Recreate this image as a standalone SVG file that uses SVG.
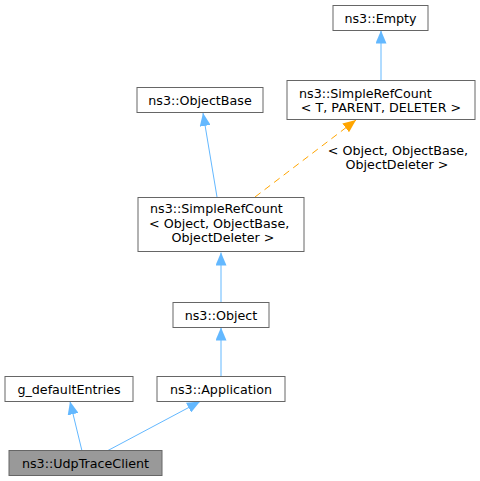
<svg xmlns="http://www.w3.org/2000/svg" width="480" height="481" viewBox="0 0 480 481">
<style>
.box{fill:#fff;stroke:#666;stroke-width:1}
.hl{fill:#999;stroke:#666;stroke-width:1}
text{font-family:"DejaVu Sans",sans-serif;font-size:12.7px;fill:#000}
.e{fill:none;stroke:#63b8ff;stroke-width:1}
.t{fill:none;stroke:#ffa500;stroke-width:1;stroke-dasharray:7,5}
</style>
<defs>
<marker id="ab" viewBox="0 0 13 11" refX="13" refY="5.5" markerWidth="13" markerHeight="11" markerUnits="userSpaceOnUse" orient="auto">
<path d="M0,0 L13,5.5 L0,11 Z" fill="#63b8ff"/>
</marker>
<marker id="ao" viewBox="0 0 13 11" refX="13" refY="5.5" markerWidth="13" markerHeight="11" markerUnits="userSpaceOnUse" orient="auto">
<path d="M0,0 L13,5.5 L0,11 Z" fill="#ffa500"/>
</marker>
</defs>
<rect width="480" height="481" fill="#fff"/>
<g id="connectors">
<path class="e" d="M381,80 L381,30.5" marker-end="url(#ab)"/>
<path class="e" d="M217,197 L203,113" marker-end="url(#ab)"/>
<path class="t" d="M255,197 L356,120" marker-end="url(#ao)"/>
<text x="398" y="155" text-anchor="middle">&lt; Object, ObjectBase,</text>
<text x="397" y="168.5" text-anchor="middle">ObjectDeleter &gt;</text>
<path class="e" d="M221,302 L221,252.5" marker-end="url(#ab)"/>
<path class="e" d="M221,376 L221,327.5" marker-end="url(#ab)"/>
<path class="e" d="M82,451 L70,401.5" marker-end="url(#ab)"/>
<path class="e" d="M107,451 L200,401.5" marker-end="url(#ab)"/>
</g>
<g id="n-empty">
<rect class="box" x="333" y="5.5" width="95" height="25"/>
<text x="380.5" y="22.5" text-anchor="middle">ns3::Empty</text>
</g>
<g id="n-srct">
<rect class="box" x="287" y="80.5" width="188" height="39"/>
<text x="299" y="97.5">ns3::SimpleRefCount</text>
<text x="381" y="112" text-anchor="middle">&lt; T, PARENT, DELETER &gt;</text>
</g>
<g id="n-objectbase">
<rect class="box" x="137" y="87.5" width="126" height="25"/>
<text x="200" y="104.5" text-anchor="middle">ns3::ObjectBase</text>
</g>
<g id="n-srco">
<rect class="box" x="138" y="197.5" width="166" height="54"/>
<text x="150" y="213">ns3::SimpleRefCount</text>
<text x="149" y="227.5">&lt; Object, ObjectBase,</text>
<text x="223" y="242" text-anchor="middle">ObjectDeleter &gt;</text>
</g>
<g id="n-object">
<rect class="box" x="173" y="302.5" width="96" height="25"/>
<text x="221" y="319.5" text-anchor="middle">ns3::Object</text>
</g>
<g id="n-app">
<rect class="box" x="157" y="376.5" width="128" height="25"/>
<text x="221" y="393.5" text-anchor="middle">ns3::Application</text>
</g>
<g id="n-gdef">
<rect class="box" x="5" y="376.5" width="128" height="25"/>
<text x="69" y="393.5" text-anchor="middle">g_defaultEntries</text>
</g>
<g id="n-udp">
<rect class="hl" x="9" y="450.5" width="153" height="25"/>
<text x="85.5" y="467.5" text-anchor="middle">ns3::UdpTraceClient</text>
</g>
</svg>
